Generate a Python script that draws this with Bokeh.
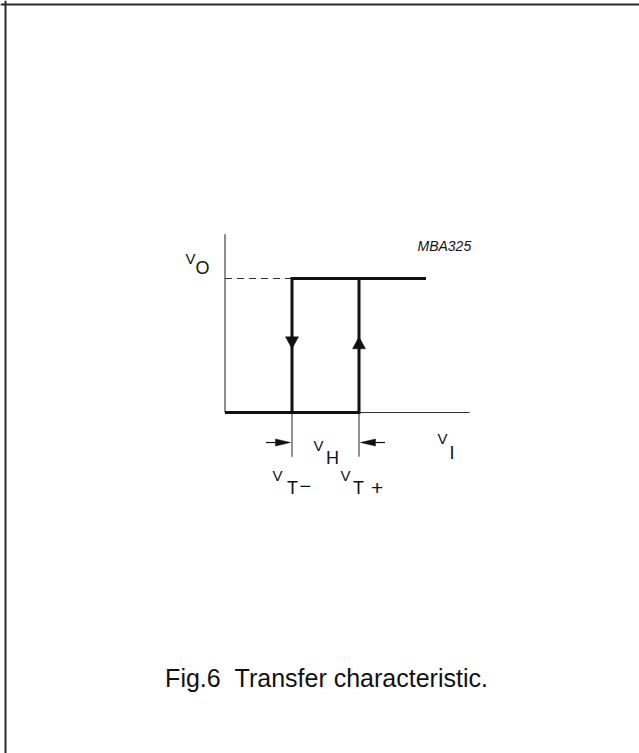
from bokeh.plotting import figure
from bokeh.models import Range1d, ColumnDataSource, Span
from bokeh.core.properties import value
from bokeh.embed import file_html
from bokeh.resources import INLINE

# ---------------- data (schematic values, arbitrary units) ----------------
VT_MINUS = 2.0      # lower switching threshold V_T-
VT_PLUS = 4.0       # upper switching threshold V_T+
VO_LOW = 0.0        # output low level
VO_HIGH = 1.0       # output high level
VI_END = 6.0        # end of drawn transfer curve
X_AXIS_END = 7.3    # length of V_I axis
Y_AXIS_END = 1.33   # length of V_O axis
ARROW_Y = 0.52      # position of direction arrows on the switching edges
DIM_Y = -0.224      # level of the V_H dimension arrows
EXT_Y = -0.33       # bottom of the threshold extension lines

label_main = ["V", "V", "V", "V", "V"]
label_sub = ["O", "H", "I", "T", "T"]
caption = "Fig.6\u00a0\u00a0Transfer characteristic."
figure_code = "MBA325"

# ---------------- layout ----------------
W, H = 639, 753
OFF_X, OFF_Y = 0, 0            # page offset of the figure
SX, SY = 33.5, 134.0           # px per data unit
ORX, ORY = 224.5 - OFF_X, 412.0 - OFF_Y   # figure px of data origin

x0 = -ORX / SX
x1 = x0 + W / SX
y1 = ORY / SY
y0 = y1 - H / SY


def fx(px):
    return x0 + (px - OFF_X) / SX


def fy(py):
    return y1 - (py - OFF_Y) / SY


p = figure(width=W, height=H, x_range=Range1d(x0, x1), y_range=Range1d(y0, y1),
           output_backend="svg", toolbar_location=None, min_border=0,
           x_axis_type=None, y_axis_type=None)
p.xgrid.visible = False
p.ygrid.visible = False
p.outline_line_color = None
p.background_fill_color = "white"
p.border_fill_color = "white"

# page border (top and left visible)
p.add_layout(Span(location=fx(5.0), dimension="height", line_color="#2b2b2b", line_width=2))
p.add_layout(Span(location=fy(4.0), dimension="width", line_color="#2b2b2b", line_width=2))

# axes
p.line([0, 0], [VO_LOW, Y_AXIS_END], line_color="#666666", line_width=1.5)
p.line([0, X_AXIS_END], [VO_LOW, VO_LOW], line_color="#333333", line_width=1)

# dashed high-level reference
p.line([0, VT_MINUS], [VO_HIGH, VO_HIGH], line_color="#333333", line_width=1, line_dash="7 5")

# threshold extension lines
p.segment(x0=[VT_MINUS, VT_PLUS], y0=[VO_LOW, VO_LOW], x1=[VT_MINUS, VT_PLUS], y1=[EXT_Y, EXT_Y],
          line_color="#222222", line_width=1)

# hysteresis loop
p.multi_line(xs=[[0, VT_PLUS, VT_PLUS], [VI_END, VT_MINUS, VT_MINUS]],
             ys=[[VO_LOW, VO_LOW, VO_HIGH], [VO_HIGH, VO_HIGH, VO_LOW]],
             line_color="#111111", line_width=3, line_join="miter", line_cap="butt")

# direction arrowheads on switching edges
L = 12 / SY
Wd = 13 / SX / 2
p.patches(
    xs=[[VT_MINUS, VT_MINUS - Wd, VT_MINUS + Wd], [VT_PLUS, VT_PLUS - Wd, VT_PLUS + Wd]],
    ys=[[ARROW_Y - L / 2, ARROW_Y + L / 2, ARROW_Y + L / 2],
        [ARROW_Y + L / 2, ARROW_Y - L / 2, ARROW_Y - L / 2]],
    fill_color="#111111", line_color="#111111", line_width=0.5)

# V_H dimension arrows
gap = 1.5 / SX
tail = 26 / SX
hl = 15 / SX
hw = 3.5 / SY
p.segment(x0=[VT_MINUS - tail, VT_PLUS + tail], y0=[DIM_Y, DIM_Y],
          x1=[VT_MINUS - gap - hl, VT_PLUS + gap + hl], y1=[DIM_Y, DIM_Y],
          line_color="#111111", line_width=1.2)
p.patches(
    xs=[[VT_MINUS - gap, VT_MINUS - gap - hl, VT_MINUS - gap - hl],
        [VT_PLUS + gap, VT_PLUS + gap + hl, VT_PLUS + gap + hl]],
    ys=[[DIM_Y, DIM_Y + hw, DIM_Y - hw], [DIM_Y, DIM_Y + hw, DIM_Y - hw]],
    fill_color="#111111", line_color="#111111", line_width=0.5)

# labels: main letter (smaller, raised) + subscript (larger)
lab = ColumnDataSource(dict(
    text=[label_main[0], label_sub[0],
          label_main[1], label_sub[1],
          label_main[2], label_sub[2],
          label_main[3], label_sub[3], "\u2212",
          label_main[4], label_sub[4], "+"],
    x=[0, 0, VT_MINUS, VT_MINUS, X_AXIS_END, X_AXIS_END,
       VT_MINUS, VT_MINUS, VT_MINUS, VT_PLUS, VT_PLUS, VT_PLUS],
    y=[VO_HIGH, VO_HIGH] + [VO_LOW] * 10,
    dx=[-39.5, -29.5, 21.5, 34, -32, -20, -19.5, -5, 7.5, -18.5, -6, 12],
    dy=[-20, -11, 33, 45, 26, 40, 63, 75, 73, 63, 75, 75],
    size=["15px", "18px"] * 3 + ["15px", "18px", "20px", "15px", "18px", "21px"],
))
p.text(x="x", y="y", text="text", x_offset="dx", y_offset="dy", source=lab,
       text_font=value("Liberation Sans"), text_font_size="size",
       text_color="#111111", text_align="left", text_baseline="alphabetic")

# figure code
p.text(x=[0], y=[VO_HIGH], text=[figure_code], x_offset=192.5, y_offset=-33,
       text_font=value("Liberation Sans"), text_font_style="italic", text_font_size="14px",
       text_color="#111111", text_align="left", text_baseline="alphabetic")

# caption
p.text(x=[fx(326)], y=[fy(677)], text=[caption],
       text_font=value("Liberation Sans"), text_font_size="25px",
       text_color="#111111", text_align="center", text_baseline="alphabetic")

open("out.html", "w").write(file_html(p, INLINE))
